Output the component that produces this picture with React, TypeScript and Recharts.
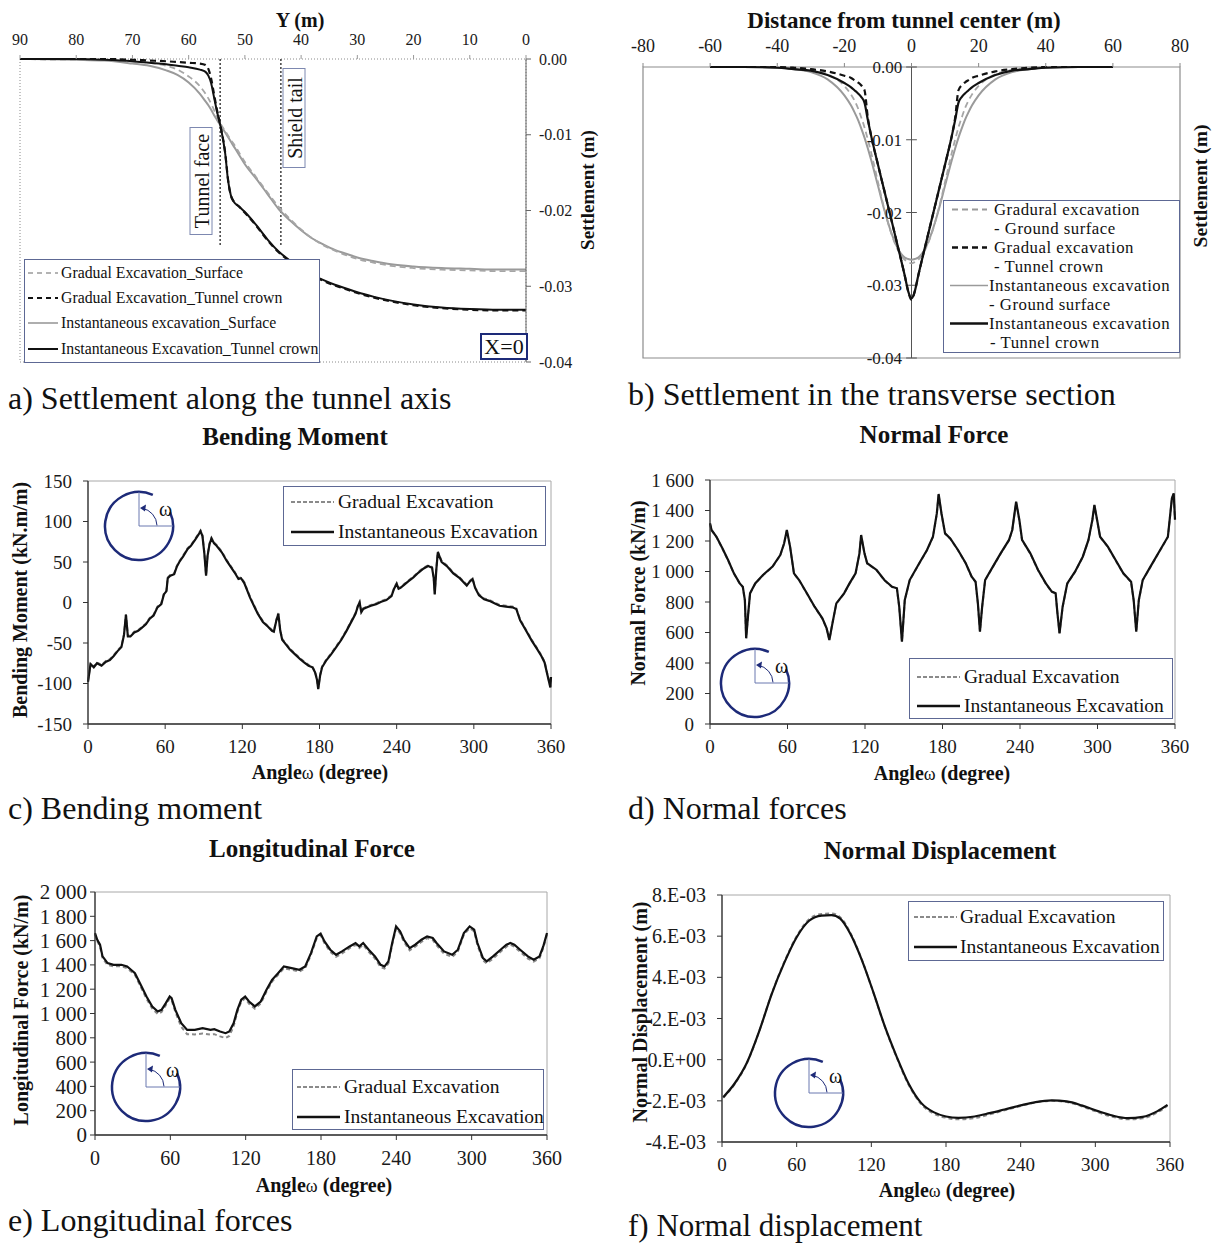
import { LineChart, Line, XAxis, YAxis, ReferenceLine, ReferenceArea } from 'recharts';
import type { ReactNode } from 'react';

const SERIF = '"Liberation Serif", "Times New Roman", Times, serif';
const INK = '#111111';
const GREY = '#9a9a9a';
const NAVY = '#1d2a78';
const BOX = '#5d6894';

// a) settlement along the tunnel axis
const axialY = [90, 80, 75, 70, 67, 64, 62, 60, 58, 57, 56.5, 56, 55.5, 55, 54.3, 53.5, 53, 52.5, 52, 51, 50, 48, 46, 44, 42, 40, 38, 36, 34, 32, 30, 27, 24, 20, 15, 10, 5, 0];
const axialGradSurf = [0, -0.0001, -0.0001, -0.0003, -0.0005, -0.0009, -0.0014, -0.0023, -0.0036, -0.0046, -0.0052, -0.0059, -0.0067, -0.0075, -0.0086, -0.0095, -0.0101, -0.0107, -0.0112, -0.0124, -0.0136, -0.0156, -0.0176, -0.0195, -0.0211, -0.0225, -0.0237, -0.0246, -0.0253, -0.0259, -0.0264, -0.0269, -0.0273, -0.0276, -0.0278, -0.0279, -0.028, -0.028];
const axialGradCrown = [0, 0, 0, -0.0001, -0.0002, -0.0003, -0.0004, -0.0005, -0.0006, -0.0008, -0.0013, -0.0026, -0.0046, -0.0066, -0.009, -0.0124, -0.0159, -0.018, -0.0188, -0.0195, -0.0203, -0.022, -0.0239, -0.0255, -0.0267, -0.0277, -0.0286, -0.0293, -0.0299, -0.0304, -0.0309, -0.0315, -0.032, -0.0325, -0.0329, -0.0331, -0.0332, -0.0332];
const axialInstSurf = [0, -0.0001, -0.0002, -0.0006, -0.0009, -0.0015, -0.0021, -0.0031, -0.0046, -0.0056, -0.0061, -0.0067, -0.0074, -0.008, -0.0088, -0.0097, -0.0103, -0.0109, -0.0115, -0.0127, -0.0139, -0.0158, -0.0178, -0.0198, -0.0213, -0.0226, -0.0237, -0.0245, -0.0252, -0.0257, -0.0262, -0.0267, -0.0271, -0.0274, -0.0276, -0.0277, -0.0278, -0.0278];
const axialInstCrown = [0, 0, -0.0001, -0.0003, -0.0005, -0.0007, -0.0009, -0.0011, -0.0014, -0.0017, -0.0022, -0.0032, -0.005, -0.0068, -0.009, -0.0125, -0.016, -0.018, -0.0188, -0.0195, -0.0202, -0.0219, -0.0238, -0.0254, -0.0266, -0.0276, -0.0285, -0.0292, -0.0298, -0.0303, -0.0308, -0.0314, -0.0319, -0.0324, -0.0328, -0.033, -0.0331, -0.0331];
const axialTicks = [90, 80, 70, 60, 50, 40, 30, 20, 10, 0];
const settleTicks = [0, -0.01, -0.02, -0.03, -0.04];
const tunnelFaceY = 54.4;
const shieldTailY = 43.6;

// b) settlement in the transverse section
const transX = [-60, -50, -40, -35, -30, -25, -20, -18, -17, -16, -15, -14, -13, -12, -10, -8, -6, -4, -2, -1, 0, 1, 2, 4, 6, 8, 10, 12, 13, 14, 15, 16, 17, 18, 20, 25, 30, 35, 40, 50, 60];
const transGradSurf = [0, 0, 0, -0.0001, -0.0004, -0.001, -0.0026, -0.0038, -0.0046, -0.0056, -0.0069, -0.0083, -0.01, -0.0118, -0.0158, -0.0197, -0.0229, -0.0252, -0.0265, -0.0268, -0.027, -0.0268, -0.0265, -0.0252, -0.0229, -0.0197, -0.0158, -0.0118, -0.01, -0.0083, -0.0069, -0.0056, -0.0046, -0.0038, -0.0026, -0.001, -0.0004, -0.0001, 0, 0, 0];
const transGradCrown = [0, 0, 0, -0.0001, -0.0003, -0.0006, -0.0012, -0.0015, -0.0018, -0.0021, -0.0025, -0.0032, -0.007, -0.0095, -0.0134, -0.0172, -0.021, -0.0248, -0.0287, -0.0308, -0.032, -0.0308, -0.0287, -0.0248, -0.021, -0.0172, -0.0134, -0.0095, -0.007, -0.0032, -0.0025, -0.0021, -0.0018, -0.0015, -0.0012, -0.0006, -0.0003, -0.0001, 0, 0, 0];
const transInstSurf = [0, 0, -0.0001, -0.0003, -0.0007, -0.0017, -0.0039, -0.0053, -0.0062, -0.0072, -0.0084, -0.0097, -0.0112, -0.0128, -0.0163, -0.0198, -0.0228, -0.025, -0.0262, -0.0264, -0.0265, -0.0264, -0.0262, -0.025, -0.0228, -0.0198, -0.0163, -0.0128, -0.0112, -0.0097, -0.0084, -0.0072, -0.0062, -0.0053, -0.0039, -0.0017, -0.0007, -0.0003, -0.0001, 0, 0];
const transInstCrown = [0, 0, -0.0001, -0.0003, -0.0005, -0.0011, -0.0022, -0.0028, -0.0032, -0.0036, -0.0041, -0.0049, -0.0073, -0.0095, -0.0134, -0.0172, -0.021, -0.0248, -0.0287, -0.0308, -0.0318, -0.0308, -0.0287, -0.0248, -0.021, -0.0172, -0.0134, -0.0095, -0.0073, -0.0049, -0.0041, -0.0036, -0.0032, -0.0028, -0.0022, -0.0011, -0.0005, -0.0003, -0.0001, 0, 0];
const transTicks = [-80, -60, -40, -20, 0, 20, 40, 60, 80];

// c) bending moment (kN.m/m)
const momentAngle = [0, 2, 4.5, 7, 10.5, 14, 17, 20, 23, 26, 28, 29.5, 31, 33, 36, 39, 42, 45, 48, 51, 54, 57, 59, 61, 62, 64, 67, 69, 71, 74, 77.5, 80, 83.5, 86, 87.5, 89, 90.5, 91.8, 93, 94.5, 96, 98, 100, 104, 108, 111, 114, 117, 119, 121.5, 124, 126, 129, 132, 136, 140, 143, 144.5, 146.5, 148, 149.5, 151, 154, 157, 161, 165, 168, 171.5, 174.5, 176.5, 178, 179, 180.5, 182, 185, 189, 193, 197, 201, 205, 208, 210, 211.2, 212.5, 214, 217, 220, 224, 228, 232, 236, 238, 240, 241.5, 243, 246, 249, 253, 257, 261, 264.5, 267.5, 268.8, 269.6, 270.8, 272, 275, 279, 284, 289, 294.5, 297, 299, 301, 304, 308, 312, 316, 320, 325, 330, 333, 336, 340, 345, 349, 352.5, 355, 357, 358.5, 359.5, 360];
const momentInst = [-98, -76, -80, -75, -78, -73, -71, -66, -60, -55, -40, -15, -42, -42, -37, -35, -31, -27, -20, -16, -6, -2, 10, 14, 30, 33, 35, 44, 50, 57, 66, 70, 78, 84, 88, 82, 60, 33, 58, 72, 79, 73, 70, 62, 51, 44, 37, 29, 30, 24, 14, 6, -4, -14, -24, -30, -35, -36, -22, -14, -35, -46, -52, -58, -64, -70, -74, -78, -80, -86, -95, -107, -90, -80, -72, -64, -55, -46, -35, -23, -14, -4, 0, -12, -8, -6, -4, -2, 1, 3, 8, 17, 23, 17, 18, 22, 26, 31, 37, 42, 45, 43, 30, 10, 40, 62, 50, 45, 36, 30, 21, 26, 29, 18, 9, 4, 2, -1, -4, -5, -6, -8, -22, -33, -47, -57, -66, -74, -88, -98, -105, -92];
const momentGrad = [-97, -75, -79, -74, -77, -72, -70, -65, -59, -54, -39, -15, -41, -41, -36, -34, -30, -26, -19, -15, -5, -1, 11, 15, 31, 34, 36, 45, 51, 58, 67, 71, 79, 85, 89, 83, 61, 34, 59, 73, 80, 74, 71, 63, 52, 45, 38, 30, 31, 25, 15, 7, -3, -13, -23, -29, -34, -35, -21, -13, -34, -45, -51, -57, -63, -69, -73, -77, -79, -85, -94, -106, -89, -79, -71, -63, -54, -45, -34, -22, -13, -3, 1, -11, -7, -5, -3, -1, 2, 4, 9, 18, 24, 18, 19, 23, 27, 32, 38, 43, 46, 44, 31, 11, 41, 63, 51, 46, 37, 31, 22, 27, 30, 19, 10, 5, 3, 0, -3, -4, -5, -7, -21, -32, -46, -56, -65, -73, -87, -97, -104, -91];

// d) normal force (kN/m)
const normalAngle = [0, 1.2, 5, 9.6, 14, 18.5, 23, 25.4, 27, 28, 29.6, 31, 35, 41, 48.4, 54.4, 57.4, 59.5, 62, 65, 69, 75, 81, 87, 90.3, 92.4, 94.8, 97.8, 103.8, 108, 112.7, 115.7, 117, 119.6, 121.7, 129, 135, 141, 144.7, 146.5, 148.6, 150.8, 154.6, 162, 168, 172.6, 175.6, 177, 179.2, 182, 186, 192, 198, 202.6, 205.6, 207.4, 209, 210.7, 213, 219, 225, 231.5, 234, 237, 239.5, 241.6, 248, 254, 260, 264.6, 267.6, 269, 270.6, 273, 276.6, 282.6, 288.6, 293, 296, 297.6, 299.7, 302, 308, 314, 320, 326, 328, 330, 332, 335, 341, 348.5, 354.5, 357.6, 359, 360];
const normalInst = [1316, 1272, 1228, 1152, 1075, 988, 922, 900, 813, 562, 726, 857, 922, 977, 1032, 1108, 1185, 1272, 1163, 988, 944, 857, 769, 693, 627, 551, 660, 791, 857, 922, 988, 1119, 1239, 1119, 1054, 1010, 944, 900, 890, 769, 540, 813, 944, 1054, 1141, 1228, 1381, 1508, 1381, 1250, 1217, 1141, 1054, 966, 933, 791, 605, 769, 944, 1032, 1119, 1207, 1272, 1458, 1338, 1207, 1119, 1010, 922, 868, 857, 726, 595, 769, 922, 999, 1097, 1207, 1338, 1436, 1338, 1228, 1163, 1075, 988, 933, 813, 605, 813, 944, 1032, 1141, 1228, 1480, 1512, 1340];
const normalGrad = [1314, 1270, 1226, 1150, 1073, 986, 920, 898, 811, 565, 728, 855, 920, 975, 1030, 1106, 1183, 1268, 1161, 986, 942, 855, 767, 691, 625, 554, 662, 789, 855, 920, 986, 1117, 1235, 1117, 1052, 1008, 942, 898, 888, 767, 543, 811, 942, 1052, 1139, 1226, 1378, 1503, 1378, 1248, 1215, 1139, 1052, 964, 931, 789, 608, 767, 942, 1030, 1117, 1205, 1270, 1453, 1335, 1205, 1117, 1008, 920, 866, 855, 724, 598, 767, 920, 997, 1095, 1205, 1335, 1432, 1335, 1226, 1161, 1073, 986, 931, 811, 608, 811, 942, 1030, 1139, 1226, 1476, 1508, 1338];

// e) longitudinal force (kN/m)
const longAngle = [0, 1.8, 4, 6, 10, 14.8, 21, 25.6, 28.7, 31.8, 36.4, 41, 45.6, 50, 53, 56.4, 59.5, 61, 64, 68.7, 73.4, 79.5, 85.7, 92, 95, 99.6, 104, 107, 110.4, 113.4, 116.5, 119.6, 122.7, 127.3, 132, 136.6, 141, 145.8, 150.4, 156.6, 162.8, 167.4, 172, 176.6, 179.7, 182.8, 187.4, 192, 196.7, 202.8, 207.5, 210.5, 213.6, 218, 223, 227.5, 230.6, 233.7, 236.7, 239.8, 243, 246, 250.6, 255, 260, 264.5, 269, 272, 278, 284.5, 289, 293.8, 298.4, 302, 304.6, 309, 312, 317, 323, 327.7, 330.8, 334, 338.6, 344.8, 349.4, 354, 357, 360];
const longInst = [1662, 1607, 1566, 1470, 1415, 1401, 1401, 1387, 1360, 1332, 1236, 1140, 1058, 1016, 1030, 1085, 1140, 1126, 1030, 920, 865, 865, 879, 865, 871, 852, 838, 852, 920, 1030, 1113, 1140, 1099, 1058, 1099, 1195, 1277, 1332, 1387, 1374, 1360, 1387, 1497, 1635, 1657, 1593, 1525, 1483, 1511, 1552, 1580, 1552, 1580, 1525, 1470, 1401, 1387, 1429, 1580, 1717, 1676, 1607, 1538, 1566, 1607, 1635, 1621, 1580, 1511, 1483, 1525, 1662, 1717, 1690, 1580, 1456, 1429, 1470, 1525, 1566, 1580, 1566, 1525, 1470, 1442, 1470, 1552, 1662];
const longGrad = [1650, 1595, 1552, 1455, 1400, 1388, 1388, 1372, 1345, 1318, 1220, 1122, 1040, 995, 1012, 1068, 1125, 1110, 1012, 890, 830, 828, 835, 826, 830, 812, 798, 815, 895, 1012, 1098, 1125, 1080, 1040, 1082, 1180, 1262, 1318, 1372, 1360, 1345, 1372, 1482, 1620, 1645, 1578, 1508, 1466, 1495, 1538, 1565, 1538, 1565, 1508, 1452, 1382, 1370, 1412, 1565, 1702, 1660, 1590, 1520, 1550, 1590, 1620, 1605, 1562, 1492, 1466, 1510, 1648, 1702, 1676, 1562, 1438, 1412, 1452, 1508, 1550, 1566, 1550, 1508, 1452, 1428, 1455, 1538, 1650];

// f) normal displacement (m)
const dispAngle = [1, 10, 20, 30, 40, 50, 60, 70, 80, 88, 95, 103, 112, 122, 131, 140, 150, 160, 170, 180, 190, 203, 215, 227, 240, 252, 265, 277, 289, 302, 314, 326, 338, 350, 358];
const dispInst = [-1.82e-3, -1.17e-3, -0.15e-3, 1.4e-3, 3.2e-3, 4.7e-3, 5.95e-3, 6.75e-3, 7.0e-3, 7.02e-3, 6.85e-3, 6.13e-3, 4.9e-3, 3.21e-3, 1.59e-3, 0.2e-3, -1.17e-3, -2.1e-3, -2.55e-3, -2.76e-3, -2.83e-3, -2.76e-3, -2.6e-3, -2.42e-3, -2.22e-3, -2.06e-3, -1.98e-3, -2.03e-3, -2.22e-3, -2.5e-3, -2.72e-3, -2.84e-3, -2.78e-3, -2.5e-3, -2.2e-3];
const dispGrad = [-1.85e-3, -1.2e-3, -0.18e-3, 1.4e-3, 3.22e-3, 4.74e-3, 6.0e-3, 6.82e-3, 7.08e-3, 7.1e-3, 6.92e-3, 6.18e-3, 4.92e-3, 3.2e-3, 1.57e-3, 0.16e-3, -1.22e-3, -2.16e-3, -2.62e-3, -2.82e-3, -2.9e-3, -2.84e-3, -2.66e-3, -2.46e-3, -2.25e-3, -2.08e-3, -2.0e-3, -2.06e-3, -2.26e-3, -2.55e-3, -2.78e-3, -2.9e-3, -2.85e-3, -2.56e-3, -2.24e-3];
const dispTickVals = [-0.004, -0.002, 0, 0.002, 0.004, 0.006, 0.008];
const dispTickLabels = ['-4.E-03', '-2.E-03', '0.E+00', '2.E-03', '4.E-03', '6.E-03', '8.E-03'];

const angleTicks = [0, 60, 120, 180, 240, 300, 360];

const spaced = (v: number) => (v >= 1000 ? `${Math.floor(v / 1000)} ${String(v % 1000).padStart(3, '0')}` : String(v));

function Txt({ x, y, size, bold, rotate, anchor = 'middle', ls = 0, children }: { x: number; y: number; size: number; bold?: boolean; rotate?: number; anchor?: 'start' | 'middle'; ls?: number; children: ReactNode }) {
  const tx = anchor === 'middle' ? '-50%' : '0';
  return (
    <div
      style={{
        position: 'absolute',
        left: x,
        top: y,
        fontSize: size,
        fontWeight: bold ? 700 : 400,
        whiteSpace: 'nowrap',
        lineHeight: 1,
        letterSpacing: ls,
        transform: `translate(${tx},-50%)${rotate ? ` rotate(${rotate}deg)` : ''}`,
      }}
    >
      {children}
    </div>
  );
}

type LegRow = { y: number; text: string; tx: number; line?: { x1: number; x2: number; stroke: string; dash?: string; w: number } };

function LegendBox({ left, top, width, height, rows, size, ls = 0 }: { left: number; top: number; width: number; height: number; rows: LegRow[]; size: number; ls?: number }) {
  return (
    <>
      <div style={{ position: 'absolute', left, top, width, height, border: `1px solid ${BOX}`, background: '#fff', boxSizing: 'border-box' }} />
      <svg style={{ position: 'absolute', left: 0, top: 0, overflow: 'visible' }} width={1} height={1}>
        {rows.map((r, i) =>
          r.line ? <line key={i} x1={r.line.x1} x2={r.line.x2} y1={r.y} y2={r.y} stroke={r.line.stroke} strokeWidth={r.line.w} strokeDasharray={r.line.dash} /> : null,
        )}
      </svg>
      {rows.map((r, i) => (
        <Txt key={i} x={r.tx} y={r.y} size={size} anchor="start" ls={ls}>
          {r.text}
        </Txt>
      ))}
    </>
  );
}

function twoRows(y1: number, y2: number, lx: number, tx: number): LegRow[] {
  return [
    { y: y1, text: 'Gradual Excavation', tx, line: { x1: lx, x2: lx + 43, stroke: '#8a8a8a', dash: '4 2', w: 1.8 } },
    { y: y2, text: 'Instantaneous Excavation', tx, line: { x1: lx, x2: lx + 43, stroke: INK, w: 2.6 } },
  ];
}

function AngleIcon({ cx, cy }: { cx: number; cy: number }) {
  const r = 34;
  const c = 46;
  const pt = (deg: number, rr: number) => `${c + rr * Math.cos((deg * Math.PI) / 180)} ${c - rr * Math.sin((deg * Math.PI) / 180)}`;
  return (
    <svg style={{ position: 'absolute', left: cx - c, top: cy - c }} width={c * 2} height={c * 2}>
      <path d={`M ${pt(66, r)} A ${r} ${r} 0 1 0 ${pt(24, r)}`} fill="none" stroke={NAVY} strokeWidth={2.5} />
      <line x1={c} y1={c} x2={c} y2={c - r} stroke="#6a78b0" strokeWidth={1} />
      <line x1={c} y1={c} x2={c + r} y2={c} stroke="#6a78b0" strokeWidth={1} />
      <path d={`M ${pt(2, 18)} A 18 18 0 0 0 ${pt(80, 18)}`} fill="none" stroke={NAVY} strokeWidth={1} />
      <polygon points={`${c + 1},${c - 18} ${c + 7},${c - 21.5} ${c + 6},${c - 14.5}`} fill={NAVY} />
      <text x={c + 20} y={c - 10} fontSize={20} fontFamily={SERIF} fill="#111">ω</text>
    </svg>
  );
}

function AngleTitle({ x, y }: { x: number; y: number }) {
  return (
    <Txt x={x} y={y} size={20} bold>
      Angle<span style={{ fontWeight: 400, fontSize: 18 }}>ω</span> (degree)
    </Txt>
  );
}

const tickFont = { fontSize: 19, fill: '#1a1a1a', fontFamily: SERIF };

function AxialChart() {
  const data = axialY.map((y, i) => ({ y, gs: axialGradSurf[i], gc: axialGradCrown[i], is: axialInstSurf[i], ic: axialInstCrown[i] }));
  return (
    <LineChart width={610} height={380} data={data} margin={{ top: 29, right: 24, bottom: 18, left: 20 }}>
      <XAxis dataKey="y" type="number" domain={[0, 90]} reversed orientation="top" ticks={axialTicks} height={30} tick={{ ...tickFont, fontSize: 16 }} tickSize={4} tickMargin={10} axisLine={false} tickLine={{ stroke: '#999' }} />
      <YAxis type="number" domain={[-0.04, 0]} orientation="right" ticks={settleTicks} width={60} tickFormatter={(v: number) => v.toFixed(2)} tick={{ ...tickFont, fontSize: 16 }} tickSize={5} tickMargin={8} axisLine={{ stroke: '#666' }} tickLine={{ stroke: '#666' }} />
      <ReferenceArea x1={90} x2={0} y1={-0.04} y2={0} fill="none" stroke="#8a8a8a" strokeDasharray="1 2" />
      <ReferenceLine segment={[{ x: tunnelFaceY, y: 0 }, { x: tunnelFaceY, y: -0.0246 }]} stroke="#333" strokeDasharray="2 2" strokeWidth={1.4} />
      <ReferenceLine segment={[{ x: shieldTailY, y: 0 }, { x: shieldTailY, y: -0.0246 }]} stroke="#333" strokeDasharray="2 2" strokeWidth={1.4} />
      <Line dataKey="is" type="monotone" stroke={GREY} strokeWidth={2} dot={false} isAnimationActive={false} />
      <Line dataKey="gs" type="monotone" stroke="#a6a6a6" strokeWidth={1.8} strokeDasharray="6 4" dot={false} isAnimationActive={false} />
      <Line dataKey="ic" type="monotone" stroke={INK} strokeWidth={2} dot={false} isAnimationActive={false} />
      <Line dataKey="gc" type="monotone" stroke={INK} strokeWidth={2.2} strokeDasharray="6 4" dot={false} isAnimationActive={false} />
    </LineChart>
  );
}

function TransverseChart() {
  const data = transX.map((x, i) => ({ x, gs: transGradSurf[i], gc: transGradCrown[i], is: transInstSurf[i], ic: transInstCrown[i] }));
  return (
    <LineChart width={604} height={380} data={data} margin={{ top: 37, right: 35, bottom: 22, left: 32 }}>
      <XAxis dataKey="x" type="number" domain={[-80, 80]} orientation="top" ticks={transTicks} height={30} tick={{ ...tickFont, fontSize: 18 }} tickSize={4} tickMargin={11} axisLine={false} tickLine={{ stroke: '#888' }} />
      <YAxis hide type="number" domain={[-0.04, 0]} />
      <ReferenceArea x1={-80} x2={80} y1={-0.04} y2={0} fill="none" stroke="#8c8c8c" strokeWidth={1.2} />
      <ReferenceLine x={0} stroke="#555" />
      {settleTicks.map((v) => (
        <ReferenceLine key={v} segment={[{ x: -1.6, y: v }, { x: 1.6, y: v }]} stroke="#555" label={{ value: v.toFixed(2), position: 'left', offset: 4, fontSize: 17, fill: '#1a1a1a', fontFamily: SERIF }} />
      ))}
      <Line dataKey="is" type="monotone" stroke={GREY} strokeWidth={2} dot={false} isAnimationActive={false} />
      <Line dataKey="gs" type="monotone" stroke="#a6a6a6" strokeWidth={1.8} strokeDasharray="6 4" dot={false} isAnimationActive={false} />
      <Line dataKey="ic" type="monotone" stroke={INK} strokeWidth={2.2} dot={false} isAnimationActive={false} />
      <Line dataKey="gc" type="monotone" stroke={INK} strokeWidth={2.2} strokeDasharray="6 4" dot={false} isAnimationActive={false} />
    </LineChart>
  );
}

type AngleChartProps = {
  angles: number[];
  inst: number[];
  grad: number[];
  domain: [number, number];
  ticks: number[];
  fmt: (v: number) => string;
  yWidth: number;
  margin: { top: number; right: number; bottom: number; left: number };
  curve: 'linear' | 'monotone';
  tickMargin?: number;
  xFont?: number;
  yFont?: number;
};

function AngleChart({ angles, inst, grad, domain, ticks, fmt, yWidth, margin, curve, tickMargin = 11, xFont = 19, yFont = 19 }: AngleChartProps) {
  const data = angles.map((a, i) => ({ a, inst: inst[i], grad: grad[i] }));
  return (
    <LineChart width={604} height={380} data={data} margin={margin}>
      <ReferenceArea x1={0} x2={360} y1={domain[0]} y2={domain[1]} fill="none" stroke="#a8a8a8" />
      <XAxis dataKey="a" type="number" domain={[0, 360]} ticks={angleTicks} height={30} tick={{ ...tickFont, fontSize: xFont }} tickSize={5} tickMargin={11} axisLine={{ stroke: '#333', strokeWidth: 1.3 }} tickLine={{ stroke: '#333' }} />
      <YAxis type="number" domain={domain} ticks={ticks} width={yWidth} tickFormatter={fmt} tick={{ ...tickFont, fontSize: yFont }} tickSize={5} tickMargin={tickMargin} axisLine={{ stroke: '#333', strokeWidth: 1.3 }} tickLine={{ stroke: '#333' }} interval={0} />
      <Line dataKey="grad" type={curve} stroke="#8a8a8a" strokeWidth={2} strokeDasharray="4 3" dot={false} isAnimationActive={false} />
      <Line dataKey="inst" type={curve} stroke={INK} strokeWidth={2.2} dot={false} isAnimationActive={false} />
    </LineChart>
  );
}

function Panel({ left, top, children }: { left: number; top: number; children: ReactNode }) {
  return <div style={{ position: 'absolute', left, top }}>{children}</div>;
}

function RotBox({ cx, cy, len, thick, text, size }: { cx: number; cy: number; len: number; thick: number; text: string; size: number }) {
  return (
    <div
      style={{
        position: 'absolute',
        left: cx,
        top: cy,
        width: len,
        height: thick,
        border: '1px solid #7d88b0',
        background: '#fff',
        boxSizing: 'border-box',
        display: 'flex',
        alignItems: 'center',
        justifyContent: 'center',
        fontSize: size,
        lineHeight: 1,
        whiteSpace: 'nowrap',
        transform: 'translate(-50%,-50%) rotate(-90deg)',
      }}
    >
      {text}
    </div>
  );
}

export default function App() {
  const rowsA: LegRow[] = [
    { y: 273, text: 'Gradual Excavation_Surface', tx: 61, line: { x1: 28, x2: 58, stroke: '#9a9a9a', dash: '5 4', w: 1.6 } },
    { y: 298, text: 'Gradual Excavation_Tunnel crown', tx: 61, line: { x1: 28, x2: 58, stroke: INK, dash: '5 4', w: 2.2 } },
    { y: 323, text: 'Instantaneous excavation_Surface', tx: 61, line: { x1: 28, x2: 58, stroke: '#9a9a9a', w: 1.6 } },
    { y: 349, text: 'Instantaneous Excavation_Tunnel crown', tx: 61, line: { x1: 28, x2: 58, stroke: INK, w: 2 } },
  ];
  const rowsB: LegRow[] = [
    { y: 209.5, text: 'Gradural excavation', tx: 994, line: { x1: 952, x2: 987, stroke: '#9a9a9a', dash: '6 4', w: 1.8 } },
    { y: 228.5, text: '- Ground surface', tx: 994 },
    { y: 247.5, text: 'Gradual excavation', tx: 994, line: { x1: 952, x2: 987, stroke: INK, dash: '6 4', w: 2.4 } },
    { y: 266.5, text: '- Tunnel crown', tx: 994 },
    { y: 285.5, text: 'Instantaneous excavation', tx: 989, line: { x1: 950, x2: 988, stroke: '#9a9a9a', w: 1.6 } },
    { y: 304.5, text: '- Ground surface', tx: 989 },
    { y: 323.5, text: 'Instantaneous excavation', tx: 989, line: { x1: 950, x2: 988, stroke: INK, w: 2.4 } },
    { y: 342.5, text: '- Tunnel crown', tx: 990 },
  ];

  return (
    <div style={{ position: 'absolute', left: 0, top: 0, width: 1215, height: 1244, background: '#fff', fontFamily: SERIF, color: '#111', overflow: 'hidden' }}>
      {/* a) */}
      <Panel left={0} top={0}>
        <AxialChart />
      </Panel>
      <Txt x={300} y={20} size={20} bold>Y (m)</Txt>
      <Txt x={587} y={190} size={19} bold rotate={-90}>Settlement (m)</Txt>
      <RotBox cx={200.5} cy={181} len={108} thick={23} text="Tunnel face" size={20} />
      <RotBox cx={294} cy={118} len={100} thick={23} text="Shield tail" size={20} />
      <LegendBox left={24} top={259} width={296} height={104} rows={rowsA} size={15.8} />
      <div style={{ position: 'absolute', left: 480, top: 333, width: 48, height: 27, border: `2px solid ${NAVY}`, boxSizing: 'border-box', background: '#fff', fontSize: 22, lineHeight: '23px', textAlign: 'center' }}>X=0</div>
      <Txt x={8} y={398} size={32} anchor="start">a) Settlement along the tunnel axis</Txt>

      {/* b) */}
      <Panel left={611} top={0}>
        <TransverseChart />
      </Panel>
      <Txt x={904} y={20} size={23} bold>Distance from tunnel center (m)</Txt>
      <Txt x={1201} y={186} size={19.5} bold rotate={-90}>Settlement (m)</Txt>
      <LegendBox left={943} top={200} width={237} height={153} rows={rowsB} size={16.8} ls={0.5} />
      <Txt x={628} y={394} size={32} anchor="start">b) Settlement in the transverse section</Txt>

      {/* c) */}
      <Txt x={295} y={436} size={25} bold>Bending Moment</Txt>
      <Panel left={0} top={420}>
        <AngleChart angles={momentAngle} inst={momentInst} grad={momentGrad} domain={[-150, 150]} ticks={[-150, -100, -50, 0, 50, 100, 150]} fmt={(v) => String(v)} yWidth={60} margin={{ top: 61, right: 53, bottom: 46, left: 28 }} curve="linear" />
      </Panel>
      <Txt x={20} y={600} size={20} bold rotate={-90}>Bending Moment (kN.m/m)</Txt>
      <AngleTitle x={320} y={772} />
      <LegendBox left={283} top={486} width={263} height={60} rows={twoRows(502, 532, 291, 338)} size={19.5} />
      <AngleIcon cx={139} cy={526} />
      <Txt x={8} y={808} size={32} anchor="start">c) Bending moment</Txt>

      {/* d) */}
      <Txt x={934} y={434} size={25} bold>Normal Force</Txt>
      <Panel left={611} top={420}>
        <AngleChart angles={normalAngle} inst={normalInst} grad={normalGrad} domain={[0, 1600]} ticks={[0, 200, 400, 600, 800, 1000, 1200, 1400, 1600]} fmt={spaced} yWidth={70} margin={{ top: 60, right: 40, bottom: 46, left: 29 }} curve="linear" />
      </Panel>
      <Txt x={638} y={593} size={20} bold rotate={-90}>Normal Force (kN/m)</Txt>
      <AngleTitle x={942} y={773} />
      <LegendBox left={909} top={658} width={264} height={61} rows={twoRows(677, 706, 917, 964)} size={19.5} />
      <AngleIcon cx={755} cy={683} />
      <Txt x={628} y={808} size={32} anchor="start">d) Normal forces</Txt>

      {/* e) */}
      <Txt x={312} y={848} size={25} bold>Longitudinal Force</Txt>
      <Panel left={0} top={830}>
        <AngleChart angles={longAngle} inst={longInst} grad={longGrad} domain={[0, 2000]} ticks={[0, 200, 400, 600, 800, 1000, 1200, 1400, 1600, 1800, 2000]} fmt={spaced} yWidth={70} margin={{ top: 62, right: 57, bottom: 45, left: 25 }} curve="linear" tickMargin={3} xFont={20} yFont={21} />
      </Panel>
      <Txt x={21} y={1010} size={20} bold rotate={-90}>Longitudinal Force (kN/m)</Txt>
      <AngleTitle x={324} y={1185} />
      <LegendBox left={292} top={1069} width={252} height={61} rows={twoRows(1087, 1117, 297, 344)} size={19.5} />
      <AngleIcon cx={146} cy={1087} />
      <Txt x={8} y={1220} size={32} anchor="start">e) Longitudinal forces</Txt>

      {/* f) */}
      <Txt x={940} y={850} size={25} bold>Normal Displacement</Txt>
      <Panel left={611} top={830}>
        <AngleChart angles={dispAngle} inst={dispInst} grad={dispGrad} domain={[-0.004, 0.008]} ticks={dispTickVals} fmt={(v) => dispTickLabels[dispTickVals.findIndex((t) => Math.abs(t - v) < 1e-9)] ?? ''} yWidth={80} margin={{ top: 65, right: 45, bottom: 38, left: 31 }} curve="monotone" yFont={20} />
      </Panel>
      <Txt x={640} y={1012} size={20} bold rotate={-90}>Normal Displacement (m)</Txt>
      <AngleTitle x={947} y={1190} />
      <LegendBox left={908} top={901} width={256} height={60} rows={twoRows(917, 947, 914, 960)} size={19.5} />
      <AngleIcon cx={809} cy={1093} />
      <Txt x={628} y={1225} size={31} anchor="start">f) Normal displacement</Txt>
    </div>
  );
}
